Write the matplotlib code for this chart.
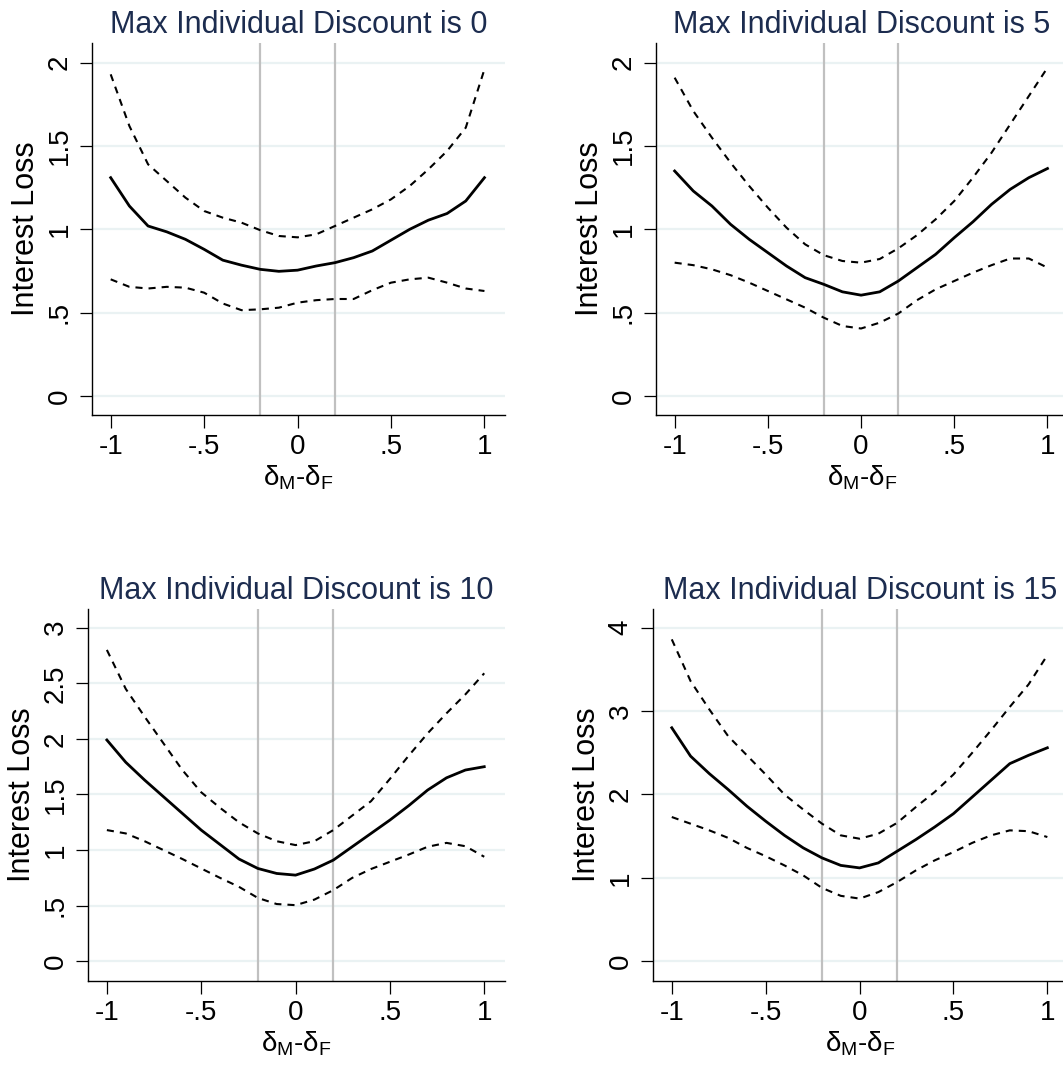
import numpy as np
import matplotlib
matplotlib.use('Agg')
import matplotlib.pyplot as plt

# ---- data ----
x = [-1.0, -0.9, -0.8, -0.7, -0.6, -0.5, -0.4, -0.3, -0.2, -0.1, 0.0,
     0.1, 0.2, 0.3, 0.4, 0.5, 0.6, 0.7, 0.8, 0.9, 1.0]

titles = ['Max Individual Discount is 0', 'Max Individual Discount is 5',
          'Max Individual Discount is 10', 'Max Individual Discount is 15']

# Max discount 0
fit_0 = [1.31, 1.14, 1.02, 0.985, 0.94, 0.88, 0.815, 0.785, 0.76, 0.748, 0.755,
         0.78, 0.80, 0.83, 0.87, 0.935, 1.0, 1.055, 1.095, 1.17, 1.31]
hi_0 = [1.93, 1.62, 1.39, 1.29, 1.19, 1.11, 1.07, 1.04, 0.995, 0.96, 0.952,
        0.97, 1.02, 1.07, 1.12, 1.18, 1.26, 1.36, 1.47, 1.61, 1.96]
lo_0 = [0.70, 0.655, 0.645, 0.655, 0.65, 0.62, 0.555, 0.515, 0.52, 0.53, 0.56,
        0.575, 0.582, 0.582, 0.635, 0.68, 0.70, 0.71, 0.68, 0.645, 0.63]

# Max discount 5
fit_5 = [1.35, 1.23, 1.14, 1.03, 0.94, 0.86, 0.78, 0.71, 0.67, 0.625, 0.605,
         0.625, 0.69, 0.77, 0.85, 0.95, 1.045, 1.15, 1.24, 1.31, 1.365]
hi_5 = [1.91, 1.71, 1.55, 1.40, 1.26, 1.13, 1.01, 0.91, 0.845, 0.81, 0.80,
        0.822, 0.886, 0.965, 1.06, 1.17, 1.31, 1.46, 1.63, 1.80, 1.97]
lo_5 = [0.80, 0.785, 0.76, 0.725, 0.68, 0.63, 0.58, 0.53, 0.47, 0.42, 0.405,
        0.44, 0.495, 0.575, 0.64, 0.69, 0.74, 0.785, 0.825, 0.825, 0.77]

# Max discount 10
fit_10 = [1.99, 1.79, 1.63, 1.48, 1.33, 1.18, 1.05, 0.92, 0.835, 0.79, 0.775,
          0.83, 0.91, 1.03, 1.15, 1.27, 1.40, 1.54, 1.65, 1.72, 1.75]
hi_10 = [2.80, 2.45, 2.20, 1.96, 1.72, 1.52, 1.38, 1.25, 1.15, 1.08, 1.045,
         1.08, 1.18, 1.31, 1.44, 1.64, 1.85, 2.05, 2.23, 2.40, 2.59]
lo_10 = [1.18, 1.15, 1.08, 1.00, 0.92, 0.835, 0.75, 0.67, 0.57, 0.515, 0.505,
         0.555, 0.64, 0.75, 0.83, 0.895, 0.96, 1.03, 1.065, 1.035, 0.94]

# Max discount 15
fit_15 = [2.80, 2.46, 2.25, 2.06, 1.86, 1.68, 1.51, 1.36, 1.24, 1.15, 1.12,
          1.18, 1.32, 1.46, 1.61, 1.77, 1.97, 2.17, 2.37, 2.47, 2.56]
hi_15 = [3.86, 3.36, 3.02, 2.70, 2.47, 2.24, 2.00, 1.82, 1.65, 1.51, 1.47,
         1.53, 1.66, 1.85, 2.03, 2.24, 2.50, 2.77, 3.05, 3.32, 3.67]
lo_15 = [1.73, 1.65, 1.57, 1.48, 1.36, 1.26, 1.15, 1.03, 0.88, 0.785, 0.752,
         0.83, 0.95, 1.09, 1.21, 1.31, 1.42, 1.51, 1.57, 1.56, 1.49]

fits = [fit_0, fit_5, fit_10, fit_15]
his = [hi_0, hi_5, hi_10, hi_15]
los = [lo_0, lo_5, lo_10, lo_15]

xticks = [-1, -0.5, 0, 0.5, 1]
xticklabels = ['-1', '-.5', '0', '.5', '1']
yticks = [[0, 0.5, 1, 1.5, 2], [0, 0.5, 1, 1.5, 2],
          [0, 0.5, 1, 1.5, 2, 2.5, 3], [0, 1, 2, 3, 4]]
yticklabels = [['0', '.5', '1', '1.5', '2'], ['0', '.5', '1', '1.5', '2'],
               ['0', '.5', '1', '1.5', '2', '2.5', '3'], ['0', '1', '2', '3', '4']]
ylims = [(-0.114, 2.118), (-0.114, 2.118), (-0.177, 3.168), (-0.236, 4.224)]
band = [-0.2, 0.2]

# ---- style ----
plt.rcParams['font.family'] = ['Liberation Sans', 'DejaVu Sans']
plt.rcParams['mathtext.fontset'] = 'custom'
plt.rcParams['mathtext.rm'] = 'Liberation Sans'
plt.rcParams['mathtext.it'] = 'Liberation Sans'
plt.rcParams['mathtext.bf'] = 'Liberation Sans:bold'

title_col = '#1c2c4f'
grid_col = '#eaf2f3'
vline_col = '#c0c0c0'

W, H = 1063, 1067
fig = plt.figure(figsize=(W / 100, H / 100), dpi=100)

# axes boxes in pixels: left, right, top, bottom
boxes = [(92, 505, 43, 415), (656, 1068, 43, 415),
         (88, 505, 609, 981), (653, 1068, 609, 981)]

for i in range(4):
    l, r, t, b = boxes[i]
    ax = fig.add_axes([l / W, (H - b) / H, (r - l) / W, (b - t) / H])

    ax.plot(x, his[i], color='black', lw=1.5, dashes=(3.4, 2.9), zorder=3)
    ax.plot(x, los[i], color='black', lw=1.5, dashes=(3.4, 2.9), zorder=3)
    ax.plot(x, fits[i], color='black', lw=2.0, zorder=4)
    for v in band:
        ax.axvline(v, color=vline_col, lw=1.6, zorder=2)

    ax.set_xlim(-1.1, 1.11)
    ax.set_ylim(*ylims[i])
    ax.set_xticks(xticks)
    ax.set_xticklabels(xticklabels)
    ax.set_yticks(yticks[i])
    ax.set_yticklabels(yticklabels[i], rotation=90, va='center')
    ax.yaxis.grid(True, color=grid_col, lw=1.6, zorder=0)
    ax.set_axisbelow(True)

    for s in ['top', 'right']:
        ax.spines[s].set_visible(False)
    for s in ['left', 'bottom']:
        ax.spines[s].set_linewidth(1.0)
    ax.tick_params(axis='both', length=9, width=0.9, labelsize=20, pad=5)

    ax.set_ylabel('Interest Loss', fontsize=22, labelpad=4)
    ax.set_xlabel(r'$\delta_{M}$-$\delta_{F}$', fontsize=20, labelpad=2)
    ax.set_title(titles[i], color=title_col, fontsize=22, pad=7)

fig.savefig('out.png', dpi=100, facecolor='w')
